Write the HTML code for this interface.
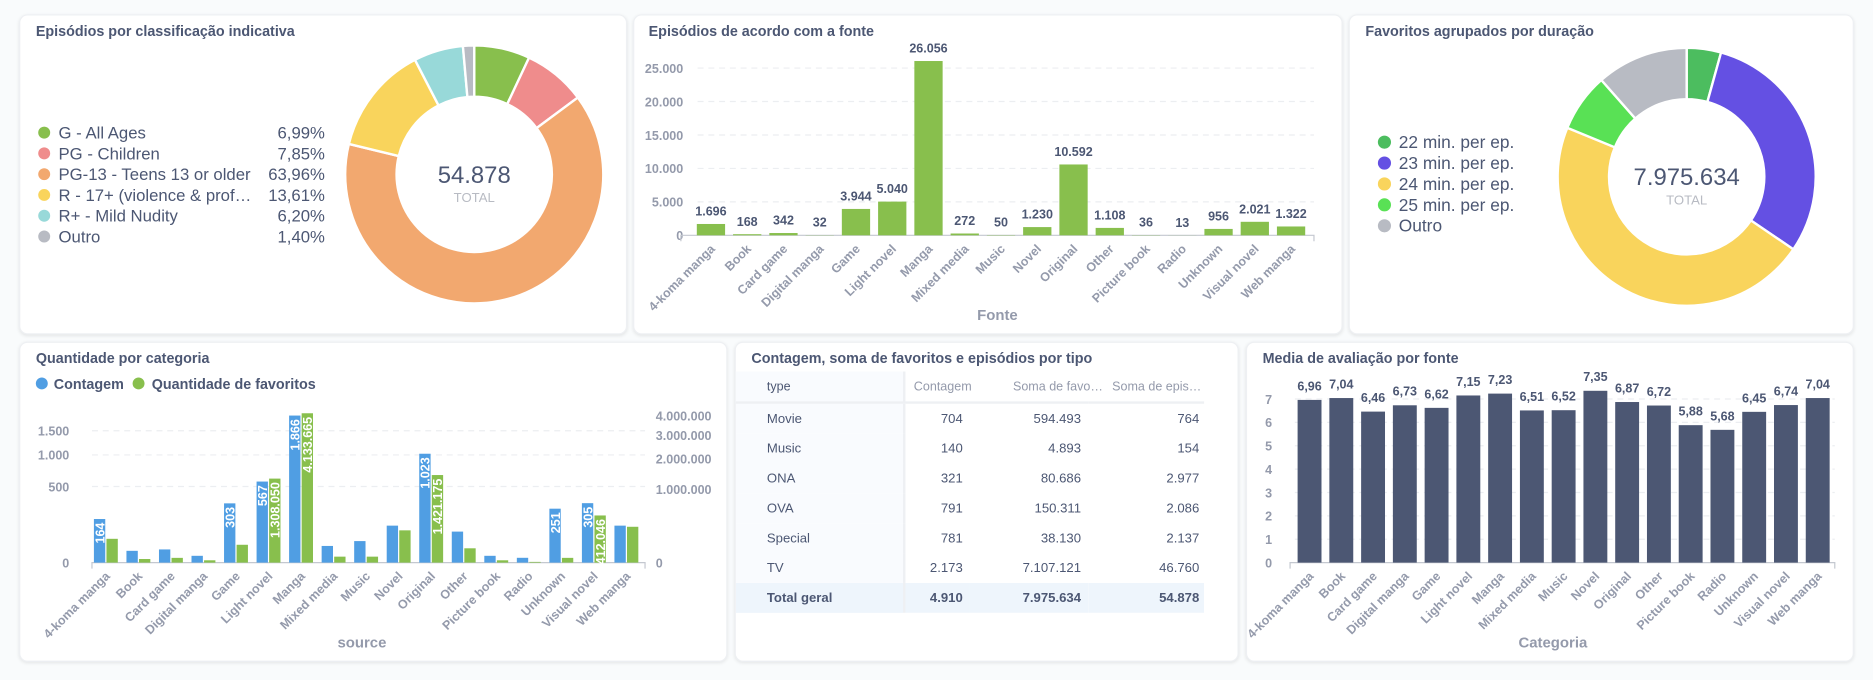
<!DOCTYPE html>
<html><head><meta charset="utf-8">
<style>
html,body{margin:0;padding:0;width:1873px;height:680px;overflow:hidden;background:#f9fbfc;}
#page{position:absolute;left:0;top:0;width:1568px;height:569px;transform:scale(1.19452);transform-origin:0 0;font-family:"Liberation Sans",sans-serif;color:#4c5773;}
.card{position:absolute;background:#fff;border-radius:7px;box-shadow:0 1px 3px rgba(0,0,0,0.09);border:1px solid #eef0f3;box-sizing:border-box;}
.title{position:absolute;font-size:12px;font-weight:bold;color:#4c5773;white-space:nowrap;}
#svg{position:absolute;left:0;top:0;}
table{position:absolute;border-collapse:collapse;font-size:11px;table-layout:fixed;}
td{height:25px;padding:0;white-space:nowrap;overflow:hidden;}
tr.h td{overflow:visible;font-size:10.5px;}
td.f{background:#f9fbfe;padding-left:26px;border-right:2px solid #eef0f3;}
td.n{text-align:right;padding-right:6px;}
</style></head><body>
<div id="page">
<div class="card" style="left:16px;top:12px;width:509px;height:268px"></div>
<div class="card" style="left:530px;top:12px;width:594px;height:268px"></div>
<div class="card" style="left:1129px;top:12px;width:423px;height:268px"></div>
<div class="card" style="left:16px;top:286px;width:593px;height:268px"></div>
<div class="card" style="left:615px;top:286px;width:422px;height:268px"></div>
<div class="card" style="left:1043px;top:286px;width:509px;height:268px"></div>
<div class="title" style="left:30px;top:19px">Episódios por classificação indicativa</div>
<div class="title" style="left:543px;top:19px">Episódios de acordo com a fonte</div>
<div class="title" style="left:1143px;top:19px">Favoritos agrupados por duração</div>
<div class="title" style="left:30px;top:293px">Quantidade por categoria</div>
<div class="title" style="left:629px;top:293px">Contagem, soma de favoritos e episódios por tipo</div>
<div class="title" style="left:1057px;top:293px">Media de avaliação por fonte</div>

<table style="left:616px;top:311px;width:392px">
<colgroup><col style="width:141px"><col style="width:55px"><col style="width:99px"><col style="width:97px"></colgroup>
<tr class="h" style="color:#949aab;border-bottom:2px solid #eef0f3">
<td class="f" style="color:#4c5773">type</td>
<td style="padding-left:7px">Contagem</td><td style="padding-left:36px">Soma de favo…</td><td style="padding-left:20px">Soma de epis…</td></tr>
<tr><td class="f">Movie</td><td class="n">704</td><td class="n">594.493</td><td class="n" style="padding-right:4px">764</td></tr>
<tr><td class="f">Music</td><td class="n">140</td><td class="n">4.893</td><td class="n" style="padding-right:4px">154</td></tr>
<tr><td class="f">ONA</td><td class="n">321</td><td class="n">80.686</td><td class="n" style="padding-right:4px">2.977</td></tr>
<tr><td class="f">OVA</td><td class="n">791</td><td class="n">150.311</td><td class="n" style="padding-right:4px">2.086</td></tr>
<tr><td class="f">Special</td><td class="n">781</td><td class="n">38.130</td><td class="n" style="padding-right:4px">2.137</td></tr>
<tr><td class="f">TV</td><td class="n">2.173</td><td class="n">7.107.121</td><td class="n" style="padding-right:4px">46.760</td></tr>
<tr style="background:#eef5fc;font-weight:bold"><td class="f" style="background:#eef5fc">Total geral</td><td class="n">4.910</td><td class="n">7.975.634</td><td class="n" style="padding-right:4px">54.878</td></tr>
</table>

<svg id="svg" width="1568" height="569"></svg>
</div>
<script>
// ---- data ----
var ratingLabels = ["G - All Ages","PG - Children","PG-13 - Teens 13 or older","R - 17+ (violence & prof…","R+ - Mild Nudity","Outro"];
var ratingPct = [6.99,7.85,63.96,13.61,6.20,1.40];
var ratingColors = ["#88bf4d","#ef8c8c","#f2a86f","#f9d45c","#98d9d9","#b8bbc3"];
var ratingTotal = "54.878";

var durLabels = ["22 min. per ep.","23 min. per ep.","24 min. per ep.","25 min. per ep.","Outro"];
var durPct = [4.3,30.2,46.7,7.3,11.5];
var durColors = ["#4cbd5f","#6450e3","#f9d45c","#59e155","#b8bbc3"];
var durTotal = "7.975.634";

var sources = ["4-koma manga","Book","Card game","Digital manga","Game","Light novel","Manga","Mixed media","Music","Novel","Original","Other","Picture book","Radio","Unknown","Visual novel","Web manga"];
var episodes = [1696,168,342,32,3944,5040,26056,272,50,1230,10592,1108,36,13,956,2021,1322];
var epTicks = [0,5000,10000,15000,20000,25000];
var counts = [164,12,15,4,303,567,1866,24,40,118,1023,83,4,2,251,305,118];
var favorites = [105000,2400,4200,1000,59000,1308050,4133665,6600,6600,193000,1421175,38000,1000,100,4200,412046,238000];
var countTicks = [0,500,1000,1500];
var favTicks = [0,1000000,2000000,3000000,4000000];
var ratings = [6.96,7.04,6.46,6.73,6.62,7.15,7.23,6.51,6.52,7.35,6.87,6.72,5.88,5.68,6.45,6.74,7.04];
var ratingTicks = [0,1,2,3,4,5,6,7];

var NS="http://www.w3.org/2000/svg";
var svg=document.getElementById('svg');
function mk(tag,attrs,parent){var e=document.createElementNS(NS,tag);for(var k in attrs)e.setAttribute(k,attrs[k]);(parent||svg).appendChild(e);return e;}
function fmt(v,d){var s=(d!==undefined)?v.toFixed(d):Math.round(v).toString();var p=s.split('.');p[0]=p[0].replace(/\B(?=(\d{3})+(?!\d))/g,'.');return p.length>1?p[0]+','+p[1]:p[0];}
function arcPath(cx,cy,r0,r1,a0,a1){
  function pt(r,a){return [cx+r*Math.sin(a),cy-r*Math.cos(a)];}
  var large=(a1-a0)>Math.PI?1:0;var p1=pt(r1,a0),p2=pt(r1,a1),p3=pt(r0,a1),p4=pt(r0,a0);
  return "M"+p1+" A"+r1+","+r1+" 0 "+large+" 1 "+p2+" L"+p3+" A"+r0+","+r0+" 0 "+large+" 0 "+p4+"Z";
}
function donut(cx,cy,pcts,colors,labels,total,prefix){
  var sum=pcts.reduce(function(a,b){return a+b;},0);var a=0;
  for(var i=0;i<pcts.length;i++){
    var a1=a+pcts[i]/sum*2*Math.PI;
    var p=mk('path',{d:arcPath(cx,cy,65,108,a,a1),fill:colors[i],stroke:'#fff','stroke-width':2});
    
    
    a=a1;
  }
  var t=mk('text',{x:cx,y:cy+7,'text-anchor':'middle','font-size':20,fill:'#4c5773'});t.textContent=total;
  
  
  var t2=mk('text',{x:cx,y:cy+23,'text-anchor':'middle','font-size':11,fill:'#b8bbc3'});t2.textContent='TOTAL';
  
  
}
// donut 1
donut(397,146,ratingPct,ratingColors,ratingLabels,ratingTotal,'rating');
for(var i=0;i<ratingLabels.length;i++){
  var y=111+i*17.4;
  var c=mk('circle',{cx:37,cy:y,r:5,fill:ratingColors[i]});
  
  
  var t=mk('text',{x:49,y:y+5,'font-size':14,fill:'#4c5773'});t.textContent=ratingLabels[i];
  
  
  var t2=mk('text',{x:272,y:y+5,'font-size':14,fill:'#4c5773','text-anchor':'end'});t2.textContent=fmt(ratingPct[i],2)+'%';
  
  
}
// donut 3
donut(1412,148,durPct,durColors,durLabels,durTotal,'duration');
for(var i=0;i<durLabels.length;i++){
  var y=119+i*17.5;
  var c=mk('circle',{cx:1159,cy:y,r:5.5,fill:durColors[i]});
  
  
  var t=mk('text',{x:1171,y:y+5,'font-size':14.5,fill:'#4c5773'});t.textContent=durLabels[i];
  
  
}
function xLabel(x,y,txt,name){
  var t=mk('text',{x:x,y:y,'font-size':10.5,'font-weight':'bold',fill:'#949aab','text-anchor':'end',transform:'rotate(-45 '+x+' '+y+')'});t.textContent=txt;
  
  
}
function grid(x0,x1,y,name){
  var l=mk('line',{x1:x0,x2:x1,y1:y,y2:y,stroke:'#eceef1','stroke-dasharray':'5,4'});
  
  
}
function axisLine(x0,x1,y,name){
  var l=mk('path',{d:'M'+x0+','+(y+5)+'V'+y+'H'+x1+'V'+(y+5),stroke:'#c4c8d0',fill:'none'});
  
  
}
// chart 2: episodes by source
(function(){
  var x0=584,x1=1100,y0=197,yMax=25000,h=140,n=sources.length,bw=(x1-x0)/n;
  function Y(v){return y0-v/yMax*h;}
  epTicks.forEach(function(v){
    if(v>0)grid(x0,x1,Y(v),'episodes-gridline');
    var t=mk('text',{x:572,y:Y(v)+4,'font-size':10.5,'font-weight':'bold',fill:'#949aab','text-anchor':'end'});t.textContent=fmt(v);
    
    
  });
  axisLine(x0-14,x1,y0,'episodes-x-axis');
  for(var i=0;i<n;i++){
    var cx=x0+bw*(i+0.5)-4,w=bw*0.78;
    var r=mk('rect',{x:cx-w/2,y:Y(episodes[i]),width:w,height:y0-Y(episodes[i]),fill:'#88bf4d'});
    
    
    var t=mk('text',{x:cx,y:Y(episodes[i])-7,'font-size':10.5,'font-weight':'bold',fill:'#4c5773','text-anchor':'middle'});t.textContent=fmt(episodes[i]);
    
    
    xLabel(cx+4,y0+12,sources[i],'episodes-x-label');
  }
  var t=mk('text',{x:835,y:268,'font-size':12.5,'font-weight':'bold',fill:'#949aab','text-anchor':'middle'});t.textContent='Fonte';
  
  
})();
// chart 4: count & favorites (sqrt scale)
(function(){
  var x0=77,x1=540,y0=471,n=sources.length,step=(x1-x0)/n;
  function YL(v){return y0-2.85*Math.sqrt(v);}
  function YR(v){return y0-0.0615*Math.sqrt(v);}
  countTicks.forEach(function(v){
    if(v>0)grid(x0,x1,YL(v),'count-gridline');
    var t=mk('text',{x:58,y:YL(v)+4,'font-size':10.5,'font-weight':'bold',fill:'#949aab','text-anchor':'end'});t.textContent=fmt(v);
    
    
  });
  favTicks.forEach(function(v){
    var t=mk('text',{x:549,y:YR(v)+4,'font-size':10.5,'font-weight':'bold',fill:'#949aab'});t.textContent=fmt(v);
    
    
  });
  axisLine(x0,x1,y0,'count-x-axis');
  for(var i=0;i<n;i++){
    var cx=x0+step*(i+0.5)-2;
    var yb=YL(counts[i]);
    var r=mk('rect',{x:cx-10,y:yb,width:9.5,height:y0-yb,fill:'#509ee3'});
    
    
    var yg=YR(favorites[i]);
    var g=mk('rect',{x:cx+0.5,y:yg,width:9.5,height:y0-yg,fill:'#88bf4d'});
    
    
    if(counts[i]>150){
      var t=mk('text',{x:cx-5.25+4,y:yb+3,'font-size':10.5,'font-weight':'bold',fill:'#fff','text-anchor':'end',transform:'rotate(-90 '+(cx-5.25+4)+' '+(yb+3)+')'});t.textContent=fmt(counts[i]);
      
      
    }
    if(favorites[i]>300000){
      var t2=mk('text',{x:cx+5.25+4,y:yg+3,'font-size':10.5,'font-weight':'bold',fill:'#fff','text-anchor':'end',transform:'rotate(-90 '+(cx+5.25+4)+' '+(yg+3)+')'});t2.textContent=fmt(favorites[i]);
      
      
    }
    xLabel(cx+4,y0+12,sources[i],'count-x-label');
  }
  var c1=mk('circle',{cx:35,cy:321,r:5,fill:'#509ee3'});
  
  
  var l1=mk('text',{x:45,y:325.5,'font-size':12,'font-weight':'bold',fill:'#4c5773'});l1.textContent='Contagem';
  
  
  var c2=mk('circle',{cx:116,cy:321,r:5,fill:'#88bf4d'});
  
  
  var l2=mk('text',{x:127,y:325.5,'font-size':12,'font-weight':'bold',fill:'#4c5773'});l2.textContent='Quantidade de favoritos';
  
  
  var t=mk('text',{x:303,y:542,'font-size':12.5,'font-weight':'bold',fill:'#949aab','text-anchor':'middle'});t.textContent='source';
  
  
})();
// chart 6: ratings
(function(){
  var x0=1084,x1=1536,y0=471,n=sources.length,step=(x1-x0)/n;
  function Y(v){return y0-v*19.57;}
  ratingTicks.forEach(function(v){
    if(v>0)grid(x0,x1,Y(v),'ratings-gridline');
    var t=mk('text',{x:1065,y:Y(v)+4,'font-size':10.5,'font-weight':'bold',fill:'#949aab','text-anchor':'end'});t.textContent=v;
    
    
  });
  axisLine(1080,x1,y0,'ratings-x-axis');
  for(var i=0;i<n;i++){
    var cx=x0+step*(i+0.5)-1;
    var r=mk('rect',{x:cx-10,y:Y(ratings[i]),width:20,height:y0-Y(ratings[i]),fill:'#4c5773'});
    
    
    var t=mk('text',{x:cx,y:Y(ratings[i])-8,'font-size':10.5,'font-weight':'bold',fill:'#4c5773','text-anchor':'middle'});t.textContent=fmt(ratings[i],2);
    
    
    xLabel(cx+4,y0+12,sources[i],'ratings-x-label');
  }
  var t=mk('text',{x:1300,y:542,'font-size':12.5,'font-weight':'bold',fill:'#949aab','text-anchor':'middle'});t.textContent='Categoria';
  
  
})();
</script>
</body></html>
